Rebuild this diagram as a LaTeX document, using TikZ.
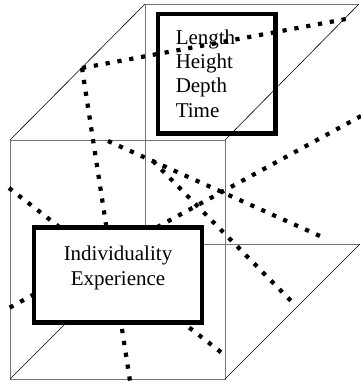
\documentclass[tikz,border=0pt]{standalone}
\usepackage{fontspec}
\setmainfont{Liberation Serif}
\usetikzlibrary{positioning, calc}
\tikzset{
  face/.style={draw=black!55, line width=0.9pt},
  edge/.style={draw=black, line width=0.6pt},
  dots/.style={line width=4.2pt, dash pattern=on 4.2pt off 7.8pt},
  box/.style={draw=black, line width=4.5pt, inner sep=0pt,
              font=\fontsize{21}{24.3}\selectfont},
}

\begin{document}
\begin{tikzpicture}[x=1pt, y=-1pt]
  \useasboundingbox (0,0) rectangle (360,381);
  % cube corners, front and back
  \coordinate (f1) at (10,140);
  \coordinate (f2) at (225,140);
  \coordinate (f3) at (225,379);
  \coordinate (f4) at (10,379);
  \coordinate (b1) at (145,4);
  \coordinate (b2) at (359,4);
  \coordinate (b3) at (360,244);
  \coordinate (b4) at (145,244);
  \draw[face] (f1) -- (f2) -- (f3) -- (f4) -- cycle;
  \draw[face] (b1) -- (b2);
  \draw[face] (b4) -- (b3);
  \draw[face] (b1) -- (b4);
  \draw[edge] (f1) -- (b1);
  \draw[edge] (f2) -- (b2);
  \draw[edge] (f3) -- (b3);
  \draw[edge] (f4) -- (b4);
  % dimensions box
  \node[box, anchor=north west, align=left, text width=81.5pt, inner xsep=18pt,
        minimum height=119.5pt] (dims) at (155.5,11.5)
    {Length\\ Height\\ Depth\\ Time};
  % dotted threads
  \coordinate (k1) at (82,68);
  \coordinate (e1) at (346,19);
  \coordinate (e2) at (130,381);
  \coordinate (s3) at (108,141);
  \coordinate (e3) at (320,236);
  \coordinate (s4) at (361,116);
  \coordinate (e4) at (9,308);
  \coordinate (s5) at (153,161);
  \coordinate (e5) at (296,306);
  \coordinate (s6) at (9,188);
  \coordinate (e6) at (222,353);
  \draw[dots] (k1) -- (e1);
  \draw[dots] (k1) -- (e2);
  \draw[dots] (s3) -- (e3);
  \draw[dots] (s4) -- (e4);
  \draw[dots] (s5) -- (e5);
  \draw[dots] (s6) -- (e6);
  % front box
  \node[box, fill=white, align=center, minimum width=168pt, minimum height=95pt,
        text depth=18.8pt] (indiv) at (118,275)
    {Individuality\\ Experience};
\end{tikzpicture}
\end{document}
